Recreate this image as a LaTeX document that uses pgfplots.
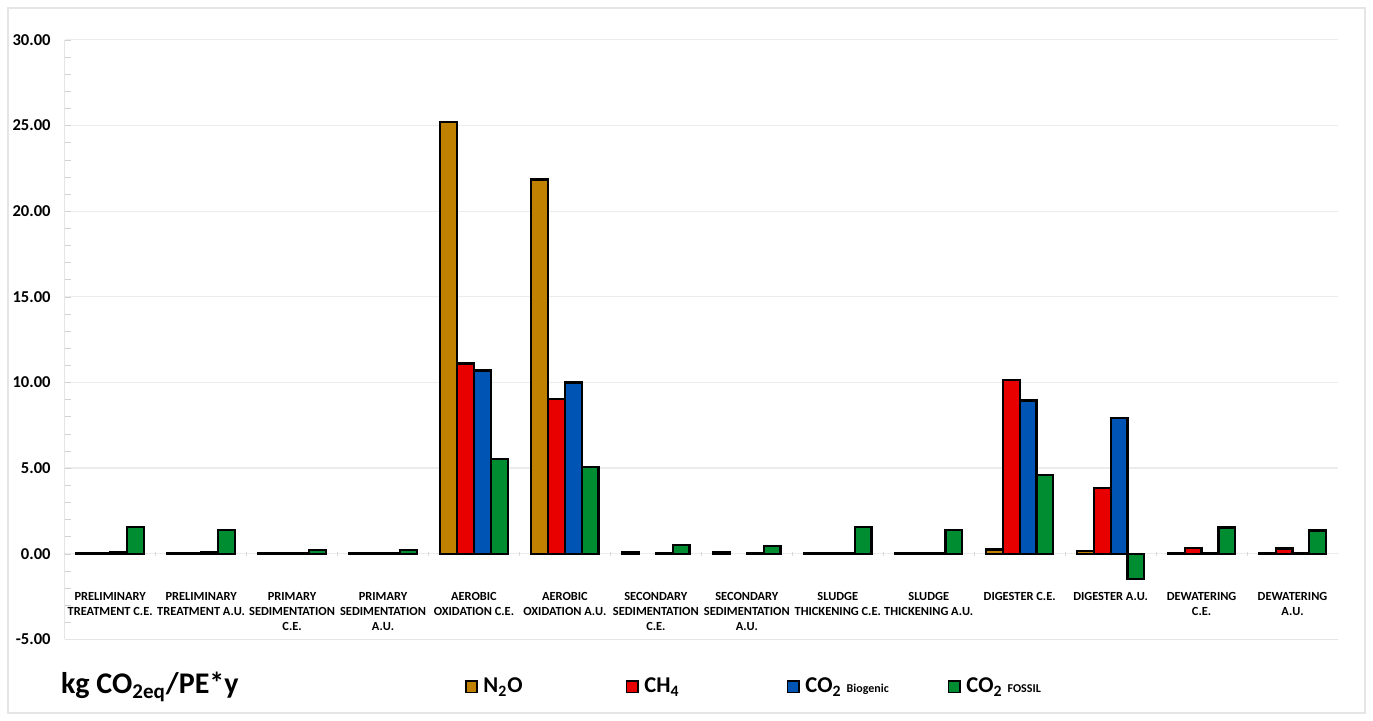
\documentclass[border=0pt]{standalone}
\usepackage{fontspec}
\setmainfont{Carlito}
\usepackage{pgfplots}
\pgfplotsset{compat=1.18}
\usepackage{pgfplotstable}

\definecolor{cn2o}{RGB}{193,129,0}
\definecolor{cch4}{RGB}{232,0,0}
\definecolor{cbio}{RGB}{0,84,180}
\definecolor{cfos}{RGB}{0,140,48}

% kg CO2eq/PE*y per process unit
\pgfplotstableread{
x  n2o   ch4   bio   fos
0  0.05  0.05  0.10  1.57
1  0.05  0.05  0.10  1.38
2  0.02  0.02  0.03  0.23
3  0.02  0.02  0.03  0.23
4  25.20 11.10 10.70 5.55
5  21.85 9.02  10.00 5.05
6  0.10  nan   0.05  0.49
7  0.10  nan   0.05  0.46
8  0.03  0.03  0.02  1.57
9  0.03  0.03  0.02  1.38
10 0.25  10.12 8.95  4.60
11 0.18  3.85  7.93  -1.46
12 0.02  0.33  0.02  1.53
13 0.02  0.30  0.02  1.36
}\emissions

\pgfplotsset{
  mybar/.style={fill=#1, draw=black, line width=1.1pt,
    legend image code/.code={\draw[##1, line width=0.9pt] (0pt,-2.8pt) rectangle (5.6pt,2.8pt);}},
}

\begin{document}
\begin{tikzpicture}
\useasboundingbox (0,0) rectangle (686.5pt,360.5pt);
\draw[gray!20, line width=0.6pt] (4pt,4pt) rectangle (682.5pt,356.5pt);
\begin{axis}[
  at={(32.35pt,40.8pt)}, anchor=south west,
  scale only axis, width=636.65pt, height=299.8pt,
  ybar=0pt, bar width=0.185,
  xmin=-0.5, xmax=13.5, ymin=-5, ymax=30,
  xtick={0,...,13},
  xticklabels={{PRELIMINARY\\TREATMENT C.E.},{PRELIMINARY\\TREATMENT A.U.},
    {PRIMARY\\SEDIMENTATION\\C.E.},{PRIMARY\\SEDIMENTATION\\A.U.},
    {AEROBIC\\OXIDATION C.E.},{AEROBIC\\OXIDATION A.U.},
    {SECONDARY\\SEDIMENTATION\\C.E.},{SECONDARY\\SEDIMENTATION\\A.U.},
    {SLUDGE\\THICKENING C.E.},{SLUDGE\\THICKENING A.U.},
    {DIGESTER C.E.},{DIGESTER A.U.},
    {DEWATERING\\C.E.},{DEWATERING\\A.U.}},
  xticklabel style={align=center, font=\bfseries\fontsize{6.2}{7.5}\selectfont, yshift=30pt},
  xtick style={draw=none},
  ytick={-5,0,...,30},
  minor y tick num=4,
  ytick pos=left,
  yticklabel style={font=\bfseries\fontsize{8.3}{10}\selectfont, xshift=-3.5pt},
  /pgf/number format/.cd, fixed, fixed zerofill, precision=2, assume math mode=true,
  /pgfplots/.cd,
  ymajorgrids, major grid style={gray!15, line width=0.6pt},
  axis lines*=left, axis line style={gray!20},
  tick style={gray!35}, major tick length=3pt, minor tick length=3pt,
  legend style={at={(0,0)}, anchor=west, xshift=200pt, yshift=-23.8pt,
    draw=none, fill=none, inner sep=0pt, outer sep=0pt,
    font=\bfseries\fontsize{11.3}{13}\selectfont, nodes={inner sep=1pt}},
  legend columns=4,
]
\addplot[mybar=cn2o] table[x=x, y=n2o] {\emissions};
\addplot[mybar=cch4] table[x=x, y=ch4] {\emissions};
\addplot[mybar=cbio] table[x=x, y=bio] {\emissions};
\addplot[mybar=cfos] table[x=x, y=fos] {\emissions};
\legend{\makebox[72pt][l]{\,N\textsubscript{2}O},
  \makebox[72pt][l]{\,CH\textsubscript{4}},
  \makebox[72pt][l]{\,CO\textsubscript{2} {\fontsize{6}{7}\selectfont Biogenic}},
  \makebox[72pt][l]{\,CO\textsubscript{2} {\fontsize{6}{7}\selectfont FOSSIL}}}
\pgfplotsinvokeforeach{-0.5,0.5,...,13.5}{
  \draw[gray!30] (axis cs:#1,-0.12) -- (axis cs:#1,0.12);
}
\end{axis}
\node[anchor=west, font=\bfseries\fontsize{15}{18}\selectfont] at (27pt,17pt)
  {kg CO\textsubscript{2eq}/PE*y};
\end{tikzpicture}
\end{document}
